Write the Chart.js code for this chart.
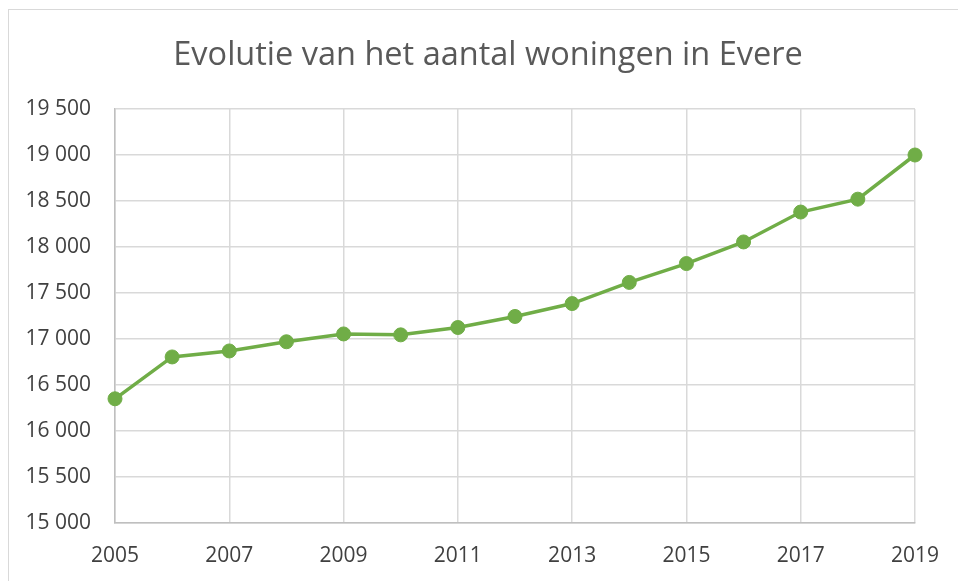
<!DOCTYPE html>
<html>
<head>
<meta charset="utf-8">
<script src="https://cdn.jsdelivr.net/npm/chart.js@4"></script>
<style>
  html, body { margin: 0; padding: 0; background: #fff; }
  #wrap { position: relative; width: 958px; height: 581px; }
  #frame { position: absolute; left: 8px; top: 9px; right: 0; bottom: 0;
           border-left: 1.5px solid #d9d9d9; border-top: 1.5px solid #d9d9d9; }
  canvas { position: absolute; left: 0; top: 0; }
</style>
</head>
<body>
<div id="wrap">
  <div id="frame"></div>
  <canvas id="woningChart" width="958" height="581"></canvas>
</div>
<script>
// jaren en aantal woningen in Evere
const years = [2005, 2006, 2007, 2008, 2009, 2010, 2011, 2012, 2013, 2014, 2015, 2016, 2017, 2018, 2019];
const woningen = [16350, 16805, 16870, 16970, 17055, 17045, 17125, 17245, 17385, 17615, 17820, 18055, 18380, 18520, 19000];
const yTicks = [15000, 15500, 16000, 16500, 17000, 17500, 18000, 18500, 19000, 19500];
const xTicks = [2005, 2007, 2009, 2011, 2013, 2015, 2017, 2019];

const fontFamily = "'Open Sans', sans-serif";
const titleColor = "#595959";
const tickColor = "#404040";

function spaced(v) {
    return String(v).replace(/\B(?=(\d{3})+(?!\d))/g, " ");
}

// titel iets naar rechts, zoals in Excel (gecentreerd over het hele kader)
const shiftTitle = {
    id: "shiftTitle",
    afterLayout(chart) {
        if (chart.titleBlock) {
            chart.titleBlock.left = 18;
            chart.titleBlock.right = chart.width;
        }
    }
};

const ctx = document.getElementById("woningChart").getContext("2d");

new Chart(ctx, {
    type: "line",
    data: {
        datasets: [{
            label: "Aantal woningen",
            data: years.map((y, i) => ({ x: y, y: woningen[i] })),
            borderColor: "#70ad47",
            backgroundColor: "#70ad47",
            borderWidth: 3.5,
            pointRadius: 7,
            pointBorderWidth: 1,
            pointBackgroundColor: "#70ad47",
            pointBorderColor: "#70ad47",
            tension: 0,
            clip: false
        }]
    },
    plugins: [shiftTitle],
    options: {
        responsive: false,
        animation: false,
        layout: { padding: { left: 0, right: 42, top: 0, bottom: 12 } },
        plugins: {
            legend: { display: false },
            tooltip: { enabled: false },
            title: {
                display: true,
                text: "Evolutie van het aantal woningen in Evere",
                color: titleColor,
                font: { family: fontFamily, size: 32.5, weight: "normal", lineHeight: 1.2 },
                padding: { top: 36, bottom: 34 }
            }
        },
        scales: {
            x: {
                type: "linear",
                min: years[0],
                max: years[years.length - 1],
                afterBuildTicks: axis => { axis.ticks = xTicks.map(v => ({ value: v })); },
                afterFit: axis => { axis.height = 46; },
                ticks: {
                    color: tickColor,
                    font: { family: fontFamily, size: 21, lineHeight: 1.3 },
                    padding: 19,
                    maxRotation: 0,
                    callback: v => String(v)
                },
                grid: { color: "#d9d9d9", lineWidth: 1.5, drawTicks: false },
                border: { color: "#bfbfbf", width: 1.5 }
            },
            y: {
                min: yTicks[0],
                max: yTicks[yTicks.length - 1],
                afterBuildTicks: axis => { axis.ticks = yTicks.map(v => ({ value: v })); },
                afterFit: axis => { axis.width = 115; },
                ticks: {
                    color: tickColor,
                    font: { family: fontFamily, size: 21 },
                    padding: 24,
                    callback: v => spaced(v)
                },
                grid: { color: "#d9d9d9", lineWidth: 1.5, drawTicks: false },
                border: { color: "#bfbfbf", width: 1.5 }
            }
        }
    }
});
</script>
</body>
</html>
